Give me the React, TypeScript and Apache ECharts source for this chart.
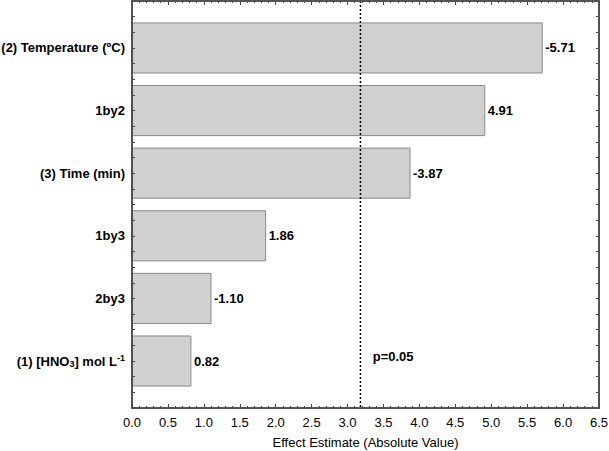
import React, { useEffect, useRef } from "react";
import * as echarts from "echarts";

const categories = ["(2) Temperature (ºC)", "1by2", "(3) Time (min)", "1by3", "2by3", "(1) [HNO3] mol L-1"];
const effects = [-5.71, 4.91, -3.87, 1.86, -1.1, 0.82];
const xTicks = { min: 0, max: 6.5, interval: 0.5 };
const pLimit = 3.18;
const pText = "p=0.05";
const pTextPos = [3.35, 5.92];

const FONT = "'Liberation Sans', Arial, sans-serif";
const AXIS_COLOR = "#4a4a4a";

const display = (name: string) =>
  name === "(1) [HNO3] mol L-1" ? "{b|(1) [HNO}{sub|3}{b|] mol L}{sup|-1}" : `{b|${name}}`;

export default function App() {
  const ref = useRef<HTMLDivElement>(null);
  useEffect(() => {
    if (!ref.current) return;
    const chart = echarts.init(ref.current, undefined, { renderer: "svg" });
    const barData = effects.map((e, i) => [Math.abs(e), i + 1]);
    const labels = effects.map((e) => e.toFixed(2));
    const yCommon = {
      type: "value",
      inverse: true,
      min: 0.25,
      max: 6.75,
      interval: 0.25,
      z: 10,
      axisLine: { show: true, onZero: false, lineStyle: { color: AXIS_COLOR, width: 1.5 } },
      axisTick: { show: true, inside: true, length: 3, lineStyle: { color: AXIS_COLOR } },
      splitLine: { show: false },
    };
    const xCommon = {
      type: "value",
      min: xTicks.min,
      max: xTicks.max,
      interval: xTicks.interval,
      z: 10,
      axisLine: { show: true, onZero: false, lineStyle: { color: AXIS_COLOR, width: 1.5 } },
      axisTick: { show: true, inside: true, length: 4, lineStyle: { color: AXIS_COLOR } },
      minorTick: { show: true, splitNumber: 5, length: 2, lineStyle: { color: AXIS_COLOR } },
      splitLine: { show: false },
    };
    const textStyle = (text: string) => ({
      text,
      fontFamily: FONT,
      fontSize: 13,
      fontWeight: "bold",
      fill: "#000",
      align: "left",
      verticalAlign: "middle",
    });
    chart.setOption({
      animation: false,
      grid: { left: 132, right: 10, top: 1, bottom: 43, outerBoundsMode: "none" },
      xAxis: [
        {
          ...xCommon,
          position: "bottom",
          name: "Effect Estimate (Absolute Value)",
          nameLocation: "middle",
          nameGap: 28,
          nameTextStyle: { fontFamily: FONT, fontSize: 13, color: "#000" },
          axisLabel: {
            show: true,
            margin: 8,
            fontFamily: FONT,
            fontSize: 13,
            color: "#000",
            formatter: (v: number) => v.toFixed(1),
          },
        },
        { ...xCommon, position: "top", axisLabel: { show: false } },
      ],
      yAxis: [
        {
          ...yCommon,
          position: "left",
          axisLabel: {
            show: true,
            margin: 7,
            formatter: (v: number) => (Number.isInteger(v) && v >= 1 && v <= categories.length ? display(categories[v - 1]) : ""),
            rich: {
              b: { fontFamily: FONT, fontSize: 13, fontWeight: "bold", color: "#000" },
              sub: { fontFamily: FONT, fontSize: 9, fontWeight: "bold", color: "#000", verticalAlign: "bottom", padding: [6, 0, 0, 0] },
              sup: { fontFamily: FONT, fontSize: 9, fontWeight: "bold", color: "#000", verticalAlign: "top", padding: [0, 0, 6, 0] },
            },
          },
        },
        { ...yCommon, position: "right", axisLabel: { show: false } },
      ],
      series: [
        {
          type: "custom",
          z: 1,
          data: barData,
          encode: { x: 0, y: 1 },
          renderItem: (params: any, api: any) => {
            const v = api.value(0);
            const idx = api.value(1);
            const start = api.coord([0, idx]);
            const end = api.coord([v, idx]);
            const h = api.size([0, 0.8])[1];
            return {
              type: "group",
              children: [
                {
                  type: "rect",
                  shape: { x: start[0], y: start[1] - h / 2, width: end[0] - start[0], height: h },
                  style: { fill: "#d0d0d0", stroke: "#8a8a8a", lineWidth: 1 },
                },
                { type: "text", x: end[0] + 3, y: end[1], style: textStyle(labels[params.dataIndex]) },
              ],
            };
          },
        },
        {
          type: "line",
          xAxisIndex: 1,
          yAxisIndex: 1,
          data: [
            [pLimit, 0.25],
            [pLimit, 6.75],
          ],
          symbol: "none",
          lineStyle: { color: "#000", width: 1.5, type: [2, 2] },
          silent: true,
        },
        {
          type: "custom",
          z: 3,
          data: [pTextPos],
          encode: { x: 0, y: 1 },
          renderItem: (params: any, api: any) => {
            const p = api.coord([api.value(0), api.value(1)]);
            return { type: "text", x: p[0], y: p[1], style: textStyle(pText) };
          },
        },
        {
          type: "custom",
          z: 5,
          silent: true,
          data: [[0, 1]],
          encode: { x: 0, y: 1 },
          renderItem: (params: any) => {
            const cs = params.coordSys;
            return {
              type: "rect",
              shape: { x: cs.x, y: cs.y, width: cs.width, height: cs.height },
              style: { fill: "none", stroke: AXIS_COLOR, lineWidth: 1.5 },
            };
          },
        },
      ],
    });
    return () => chart.dispose();
  }, []);
  return <div ref={ref} style={{ position: "fixed", left: 0, top: 0, width: 609, height: 451, background: "#fff" }} />;
}
